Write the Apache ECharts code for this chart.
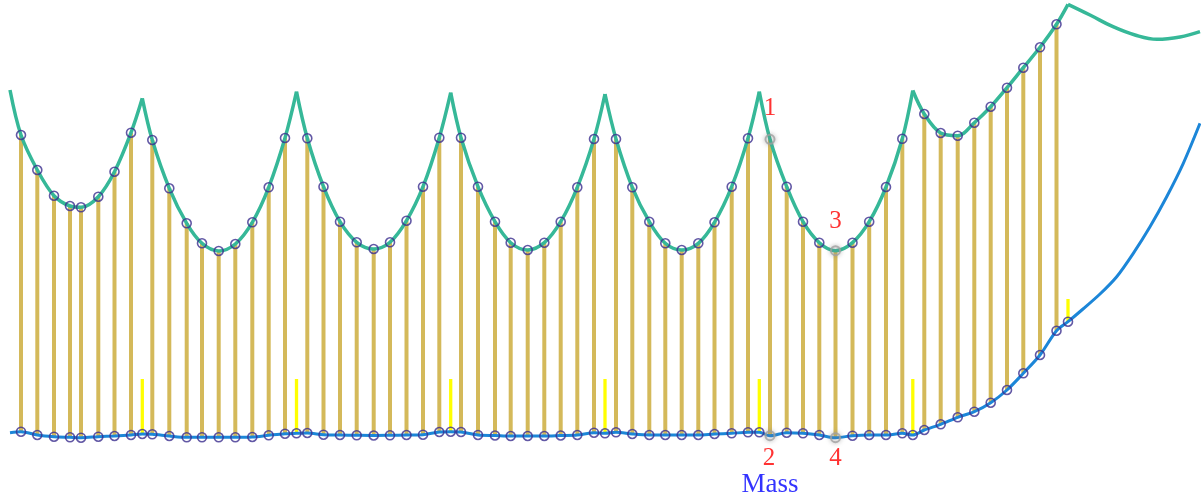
<!DOCTYPE html>
<html>
<head>
<meta charset="utf-8">
<script src="https://cdn.jsdelivr.net/npm/echarts@6/dist/echarts.min.js"></script>
<style>
html,body{margin:0;padding:0;background:#fff;}
#chart{width:1201px;height:502px;}
</style>
</head>
<body>
<div id="chart"></div>
<script>
// ---- data (x position, heights above the base line) ----
const sampleX = [21, 37.3, 54, 70, 81, 98.3, 114.5, 131,
  152.3, 169.3, 186.7, 202, 218.7, 235.3, 252.3, 268.7, 285,
  307.3, 323.5, 340, 356.7, 373.7, 390, 406.5, 423, 439.3,
  461, 478, 495, 510.7, 527.7, 544.3, 560.7, 577.3, 594,
  616, 632.3, 649.3, 665.3, 681.7, 698.3, 714.5, 731.7, 748,
  770, 786.7, 803, 819.3, 835.5, 852.5, 869.2, 886, 902.3,
  924.3, 940.7, 957.7, 974.3, 990.7, 1007, 1023.3, 1040, 1056.5];
const tealValues = [305, 270, 244.3, 234, 232.7, 243.3, 268.3, 307.3,
  300, 251.7, 216.7, 196.7, 189, 196, 217.7, 252.7, 302,
  301.7, 253.3, 218.3, 197.7, 191, 197.7, 219.3, 253.3, 302.3,
  302.3, 253.3, 218.3, 197.3, 190, 197.3, 218.3, 252.7, 301,
  301, 252.7, 218.3, 196.7, 190, 196.7, 217.7, 253.3, 301.7,
  300.7, 253.3, 218.3, 197.3, 189.3, 197.3, 218.3, 253, 301.2,
  326, 307, 304.3, 317.3, 333.3, 352.3, 372.3, 392.7, 415.7];
const massValues = [8.3, 5, 3.3, 2.7, 2.3, 3.3, 4, 5,
  5.7, 4, 2.7, 2.7, 2.7, 2.7, 3, 4.7, 6.3,
  7, 5.3, 5, 4.7, 4.5, 4.7, 5, 5.3, 8,
  8, 5, 4.5, 4, 4, 4, 4.5, 5, 7.3,
  7.7, 6, 5, 5, 5, 5, 6, 6.7, 7.7,
  4.3, 7.3, 6.7, 5, 2.3, 4.3, 5, 5, 6.7,
  10, 15.7, 22.7, 28.3, 37.3, 50, 66.7, 85, 109.3];
const cuspX = [142.3, 296.5, 450.7, 605, 759.3, 912.8, 1068];
const cuspTealValues = [341.7, 348.3, 347.3, 346, 348.3, 349.5, 435.7];
const cuspMassValues = [6, 6.7, 8.3, 6.7, 7.7, 5, 118.3];
const cuspMarkTop = [61, 61, 61, 61, 61, 61, 141];
const tealStart = [10, 350];
const massStart = [10, 7.3];
const tealTailX = [1090, 1113, 1135, 1157, 1180, 1200];
const tealTailValues = [425, 413.3, 405, 400.7, 403, 408.3];
const massTailX = [1083, 1100, 1116.7, 1133.3, 1150, 1166.7, 1183.3, 1200];
const massTailValues = [131, 146, 163.3, 186.7, 213.3, 243.3, 276.7, 316.7];
// annotated samples
const annotX = [770, 835.5];
const annotTopLabels = ['1', '3'];
const annotBottomLabels = ['2', '4'];
const massLabel = 'Mass';

// ---- build ----
const TEAL = '#36b898', BLUE = '#1c86d8', TAN = '#d4b95a', YEL = '#ffff00', NAVY = '#3b2e8e';
const series = [];

// tan bars between the two curves
series.push({
  type: 'custom', z: 1, silent: true,
  data: sampleX.map((x, i) => [x, massValues[i], tealValues[i]]),
  encode: {x: 0, y: [1, 2]},
  renderItem: function (params, api) {
    const a = api.coord([api.value(0), api.value(1)]);
    const b = api.coord([api.value(0), api.value(2)]);
    return {type: 'line', shape: {x1: a[0], y1: a[1], x2: b[0], y2: b[1]},
      style: {stroke: TAN, lineWidth: 4}};
  }
});
// yellow markers at the cusps
series.push({
  type: 'custom', z: 1, silent: true,
  data: cuspX.map((x, i) => [x, cuspMassValues[i], cuspMarkTop[i]]),
  encode: {x: 0, y: [1, 2]},
  renderItem: function (params, api) {
    const a = api.coord([api.value(0), api.value(1)]);
    const b = api.coord([api.value(0), api.value(2)]);
    return {type: 'line', shape: {x1: a[0], y1: a[1], x2: b[0], y2: b[1]},
      style: {stroke: YEL, lineWidth: 3.3}};
  }
});

// teal curve: one smooth arch between consecutive cusps
const starts = [tealStart].concat(cuspX.map((x, i) => [x, cuspTealValues[i]]));
for (let k = 0; k < cuspX.length; k++) {
  const x0 = starts[k][0], x1 = cuspX[k];
  const pts = [starts[k]];
  sampleX.forEach((x, i) => { if (x > x0 && x < x1) pts.push([x, tealValues[i]]); });
  pts.push([x1, cuspTealValues[k]]);
  series.push({type: 'line', z: 2, data: pts, smooth: 0.35, showSymbol: false, silent: true,
    lineStyle: {color: TEAL, width: 3.5}});
}
const last = cuspX.length - 1;
series.push({type: 'line', z: 2, smooth: 0.4, showSymbol: false, silent: true,
  data: [[cuspX[last], cuspTealValues[last]]].concat(tealTailX.map((x, i) => [x, tealTailValues[i]])),
  lineStyle: {color: TEAL, width: 3.5}});

// blue (mass) curve
const massPts = [massStart]
  .concat(sampleX.map((x, i) => [x, massValues[i]]))
  .concat(cuspX.map((x, i) => [x, cuspMassValues[i]]))
  .sort((a, b) => a[0] - b[0])
  .concat(massTailX.map((x, i) => [x, massTailValues[i]]));
series.push({type: 'line', z: 2, data: massPts, smooth: 0.3, showSymbol: false, silent: true,
  lineStyle: {color: BLUE, width: 3}});

// circles
const circleStyle = {color: 'rgba(0,0,0,0)', borderColor: NAVY, borderWidth: 1.6};
const greyStyle = {color: 'rgba(0,0,0,0)', borderColor: '#a0a0a0', borderWidth: 2,
  shadowBlur: 4, shadowColor: 'rgba(120,120,120,0.8)'};
function isAnnot(x) { return annotX.indexOf(x) >= 0; }
series.push({type: 'scatter', z: 3, symbol: 'circle', symbolSize: 9, silent: true,
  itemStyle: circleStyle,
  data: sampleX.map((x, i) => isAnnot(x) ? {value: [x, tealValues[i]], itemStyle: greyStyle} : [x, tealValues[i]])});
series.push({type: 'scatter', z: 3, symbol: 'circle', symbolSize: 9, silent: true,
  itemStyle: circleStyle,
  data: sampleX.map((x, i) => isAnnot(x) ? {value: [x, massValues[i]], itemStyle: greyStyle} : [x, massValues[i]])
    .concat(cuspX.map((x, i) => [x, cuspMassValues[i]]))});

// annotations
const serif = '"Liberation Serif", "Times New Roman", serif';
const labelFont = {fontFamily: serif, fontSize: 25, color: '#ff0000', textBorderWidth: 0, textShadowBlur: 0};
const topOffsets = [[0, -31], [0, -29]];
const bottomOffsets = [[-1, 22.5], [0, 21]];
const annotData = annotX.map((x, k) => ({value: [x, tealValues[sampleX.indexOf(x)]],
    label: Object.assign({show: true, position: 'inside', formatter: annotTopLabels[k], offset: topOffsets[k]}, labelFont)}))
  .concat(annotX.map((x, k) => ({value: [x, massValues[sampleX.indexOf(x)]],
    label: Object.assign({show: true, position: 'inside', formatter: annotBottomLabels[k], offset: bottomOffsets[k]}, labelFont)})))
  .concat([{value: [annotX[0], massValues[sampleX.indexOf(annotX[0])]],
    label: {show: true, position: 'inside', formatter: massLabel, offset: [0, 49],
      fontFamily: serif, fontSize: 27, color: '#0000ff', textBorderWidth: 0, textShadowBlur: 0}}]);
series.push({type: 'scatter', z: 4, symbol: 'circle', symbolSize: 2, silent: true,
  itemStyle: {color: 'rgba(0,0,0,0)'},
  data: annotData});

const chart = echarts.init(document.getElementById('chart'), null, {renderer: 'canvas'});
chart.setOption({
  animation: false,
  backgroundColor: '#ffffff',
  grid: {left: 0, top: 0, width: 1200, height: 440, containLabel: false},
  xAxis: {type: 'value', min: 0, max: 1200, show: false},
  yAxis: {type: 'value', min: 0, max: 440, show: false},
  series: series
});
</script>
</body>
</html>
